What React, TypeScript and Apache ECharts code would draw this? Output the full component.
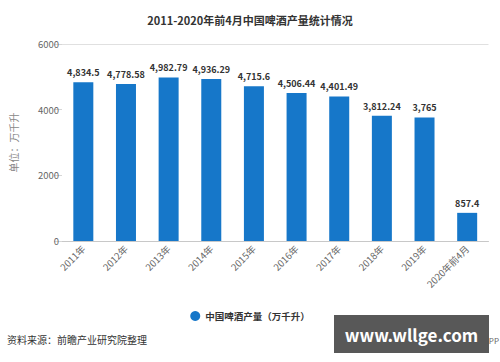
import React, { useEffect, useRef } from "react";
import * as echarts from "echarts";

const categories = ["2011年", "2012年", "2013年", "2014年", "2015年", "2016年", "2017年", "2018年", "2019年", "2020年前4月"];
const production = [4834.5, 4778.58, 4982.79, 4936.29, 4715.6, 4506.44, 4401.49, 3812.24, 3765, 857.4];
const yTicks = [0, 2000, 4000, 6000];
const seriesName = "中国啤酒产量（万千升）";
const titleText = "2011-2020年前4月中国啤酒产量统计情况";
const sourceText = "资料来源：前瞻产业研究院整理";

const FONT = "'Noto Sans CJK SC', 'Noto Sans', sans-serif";

function fmt(v: number): string {
  return v.toLocaleString("en-US", { maximumFractionDigits: 2 });
}

export default function App() {
  const ref = useRef<HTMLDivElement>(null);
  useEffect(() => {
    if (!ref.current) return;
    const chart = echarts.init(ref.current, null, { renderer: "svg" });
    chart.setOption({
      animation: false,
      backgroundColor: "#ffffff",
      textStyle: { fontFamily: FONT },
      title: {
        text: titleText,
        left: "center",
        top: 9,
        textStyle: { fontSize: 11, fontWeight: "bold", color: "#333", fontFamily: FONT },
      },
      legend: {
        data: [seriesName],
        left: "center",
        top: 306,
        icon: "circle",
        itemWidth: 10,
        itemHeight: 10,
        itemGap: 6,
        textStyle: { fontSize: 9.5, color: "#333", fontWeight: "bold", fontFamily: FONT },
      },
      grid: { left: 60.5, right: 11.5, top: 44, bottom: 121, containLabel: false },
      xAxis: {
        type: "category",
        data: categories,
        axisLine: { lineStyle: { color: "#c8c8c8" } },
        axisTick: { alignWithLabel: true, length: 5, lineStyle: { color: "#c8c8c8" } },
        axisLabel: { rotate: 45, fontSize: 9.5, color: "#666", margin: 6, fontFamily: FONT },
      },
      yAxis: {
        type: "value",
        min: 0,
        max: yTicks[yTicks.length - 1],
        interval: yTicks[1] - yTicks[0],
        name: "单位：万千升",
        nameLocation: "middle",
        nameGap: 44,
        nameTextStyle: { fontSize: 10, color: "#888", fontFamily: FONT },
        axisLine: { show: false },
        axisTick: { show: true, length: 8, lineStyle: { color: "#d6d6d6" } },
        axisLabel: {
          fontSize: 9.5,
          color: "#666",
          margin: 3,
          fontFamily: FONT,
          formatter: (v: number) => String(v),
        },
        splitLine: { show: true, lineStyle: { color: ["transparent", "transparent", "transparent", "#e0e0e0"] } },
      },
      series: [
        {
          name: seriesName,
          type: "bar",
          data: production,
          barWidth: 20,
          itemStyle: { color: "#1677c9" },
          label: {
            show: true,
            position: "top",
            distance: 5,
            fontSize: 9,
            fontWeight: "bold",
            color: "#333",
            fontFamily: FONT,
            formatter: (p: any) => fmt(p.value),
          },
        },
      ],
      graphic: [
        {
          type: "text",
          left: 7,
          top: 334,
          style: { text: sourceText, fill: "#333", font: `10px ${FONT}` },
        },
        {
          type: "text",
          x: 499,
          y: 340,
          style: { text: "APP", fill: "#666", font: `8px ${FONT}`, align: "right", verticalAlign: "middle" },
        },
        {
          type: "rect",
          shape: { x: 334, y: 315, width: 155, height: 38 },
          style: { fill: "#585858" },
        },
        {
          type: "text",
          x: 411.5,
          y: 334,
          style: {
            text: "www.wllge.com",
            fill: "#ffffff",
            font: `bold 17px ${FONT}`,
            align: "center",
            verticalAlign: "middle",
          },
        },
      ],
    });
    return () => chart.dispose();
  }, []);
  return <div ref={ref} style={{ width: 500, height: 362, position: "absolute", left: 0, top: 0 }} />;
}
